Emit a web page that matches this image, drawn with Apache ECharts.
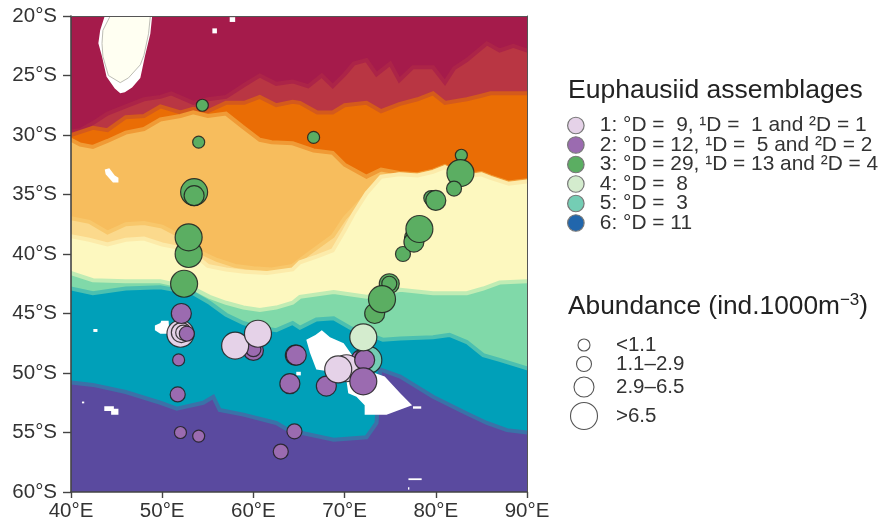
<!DOCTYPE html>
<html><head><meta charset="utf-8">
<style>html,body{margin:0;padding:0;background:#fff}#c{width:879px;height:524px;filter:blur(0.5px)}</style>
<script src="https://cdn.jsdelivr.net/npm/echarts@6/dist/echarts.min.js"></script>
</head><body><div id="c"></div>
<script>
// Longitude ticks (E) and latitude ticks (S)
const lonTicks = [40,50,60,70,80,90];
const latTicks = [20,25,30,35,40,45,50,55,60];

// Water-mass zone boundaries: [lon E, lat S]
const crimsonTop = [[40,20],[90,20]];
const crimsonEdge = [[40,29.7],[41,29.6],[42.4,29],[44,28.2],[46,27.6],[48,27],[49.8,26.8],[51,26.5],[53.4,27.3],[55,27],[57,26.8],[59,25.8],[60.7,25],[62.5,25.7],[64.3,25.5],[66,25.9],[67.5,25],[68.7,25.9],[70,24.9],[71,24],[72.4,23.7],[73.5,24.9],[75,24],[76,25.4],[77.5,24.3],[79.7,24.3],[81,25.6],[82,24.4],[83.4,23.7],[84.5,23],[85.6,22.3],[87,22.9],[88.5,22.5],[90,22.9]];
const orangeTop = [[40,30],[42.4,29.4],[44,29.6],[46,28.5],[48,28.4],[49.8,27.6],[52,28.1],[53.4,27.8],[55,28],[57,27.3],[59,27.3],[60.7,26.8],[62.5,27.5],[64.3,27.2],[65.1,27.3],[67,28.1],[68.7,28.1],[70,27.5],[72.4,27.3],[74,28],[76,27.4],[78,27],[79.7,26.5],[81,27.3],[83.4,27],[85,26.7],[86,26.5],[90,26.5]];
const orangeBottom = [[40,30.4],[41,30.8],[42.4,31],[44,30.5],[46,29.8],[48,29.5],[49.8,28.7],[52,28.4],[53.4,28.1],[55,28.4],[57,28.2],[58.8,29.3],[60.7,30.4],[62,30.6],[64.3,30.7],[66.6,31.3],[68.7,31.5],[70,32.5],[72.4,33.5],[74,32.9],[76,33.2],[78,33.3],[79.7,33],[81,32.6],[83,33.4],[85,33.2],[86,33.5],[88,34],[90,33.8]];
const paleMixTop = [[40,37],[42,37.3],[44,38.2],[46,37.5],[48,37.4],[50,37.7],[52,38.5],[54,39.8],[56,40.5],[58,41],[60,41.2],[62,41.3],[64.3,41],[66,40],[68.7,38.5],[70,37],[72.4,35],[74.1,33.6],[76,33.3],[78,33.4],[79.7,33.1],[81,32.7],[83,33.5],[85,33.3],[86,33.6],[88,34.1],[90,33.9]];
const yellowTop = [[40,38.5],[42,38.8],[44,39.2],[46,38.8],[48,38.7],[50,39.2],[52,39.5],[53.4,40],[55,41],[57,41.3],[59,41.5],[61.5,41.6],[64.3,41.3],[65.1,40.7],[67,40.2],[68.7,39.7],[70,38],[71,36.6],[72.4,34.9],[74,33.5],[76,33.3],[78,33.4],[79.7,33.1],[81,32.7],[83,33.5],[85,33.3],[86,33.6],[88,34.1],[90,33.9]];
const mintTop = [[40,41.6],[42.4,42.2],[46,42.3],[49.8,42.3],[53.4,42.9],[55.2,43.6],[57,44.1],[58.9,44.5],[60.7,44.7],[62.5,44.5],[64.3,44.1],[65.1,43.6],[68.8,43.2],[72.4,43.6],[76.1,43],[79.7,43.3],[83.4,43.3],[85.2,42.9],[87,42.4],[90,42.3]];
const tealTop = [[40,42.9],[42.4,43.3],[46,42.9],[49.8,42.8],[53.4,43.3],[55.2,44.1],[57,45.1],[58.9,45.8],[60.7,46.2],[62.5,46.4],[64.3,45.8],[65.1,46.2],[66.9,45.5],[68.8,45.4],[70.6,46.2],[74.2,47.2],[76.1,47.1],[79.7,47],[81.5,46.8],[83.4,47.4],[85.2,48.5],[87,48.9],[90,49.6]];
const purpleTop = [[40,50.8],[42.4,51],[46,51.6],[49.8,52.5],[51.6,53],[54.5,52.5],[55.6,52],[56.3,53.1],[58.9,53.5],[62.5,54.2],[64.3,55],[65.1,55],[68.8,55.6],[72.4,55.4],[73.5,54.2],[73.9,49.7],[76.1,50.3],[79.7,52],[83.4,53.4],[85.6,54.2],[87.8,54.8],[90,55]];

// Land and missing-data outlines: [lon E, lat S]
const madagascarHalo = [[43.7,20],[43.2,21.2],[43,22.3],[43.4,23.4],[43.9,25.1],[44.8,26.1],[45.4,26.5],[45.9,26.4],[46.7,26],[47.6,25.2],[48.1,23.4],[48.7,21.5],[48.9,20]];
const madagascarLand = [[44.3,20],[43.5,21.2],[43.4,22.3],[43.5,23.4],[44.1,25],[45.4,25.6],[46.3,25.2],[47.6,24.1],[48,23.3],[48.5,21.5],[48.7,20]];
const kerguelenGap = [[67.5,46.4],[68.4,47],[69.9,47.5],[71.1,48.8],[73.3,50],[74.4,50.3],[76.1,51.7],[77.4,52.7],[75.7,53.2],[74.6,53.5],[72.2,53.5],[72.2,52.7],[71.3,52],[70.4,51.7],[70.2,50.6],[69.5,50],[66.9,49.7],[66.2,48.3],[65.8,47.2],[66.8,46.8]];
const gapA = [[49.2,46],[49.8,45.8],[49.9,45.6],[50.7,45.6],[50.8,46.7],[49.8,46.7],[49.2,46.4]];
const gapB = [[42.45,46.3],[42.9,46.3],[42.9,46.55],[42.45,46.55]];
const gapC = [[41.2,52.4],[41.45,52.4],[41.45,52.55],[41.2,52.55]];
const gapD = [[43.65,52.8],[44.7,52.8],[44.7,53],[45.2,53],[45.2,53.5],[44.4,53.5],[44.4,53.2],[43.65,53.2]];
const gapE = [[43.7,32.9],[44.2,32.8],[44.8,33.4],[45.2,33.6],[45.2,34],[44.6,34],[43.8,33.3]];
const gapF = [[55.5,21.04],[56,21.04],[56,21.46],[55.5,21.46]];
const gapG = [[57.4,20.1],[58,20.1],[58,20.5],[57.4,20.5]];
const gapH = [[77.5,52.8],[78.4,52.8],[78.4,53],[77.5,53]];
const gapI = [[64.7,49.9],[65.2,49.9],[65.2,50.2],[64.7,50.2]];
const gapJ = [[77,58.85],[78.45,58.85],[78.45,59],[77,59]];
const gapK = [[76.95,59.6],[77.1,59.6],[77.1,59.8],[76.95,59.8]];

// Stations: [lon E, lat S, abundance class 0-3]
const a1Back = [[52,46.7,3],[52.1,46.6,2],[52.3,46.6,1],[70.2,49.6,3]];
const a1Top = [[58,47.7,3],[60.5,46.7,3],[69.3,49.7,3]];
const a2Back = [[60,48.1,2],[71.8,48.9,2],[64.6,48.5,2]];
const a2Top = [[52.1,45,2],[52.7,46.7,1],[51.8,48.9,0],[51.7,51.8,1],[52,55,0],[54,55.3,0],[63,56.6,1],[64.5,54.9,1],[64,50.9,2],[64.7,48.5,2],[60,48,1],[68,51.1,2],[72.2,48.9,2],[72.05,50.7,3]];
const a3Back = [[79.5,35.3,1],[53.5,34.8,3],[52.9,40,3],[52.4,42.5,3],[74.9,42.5,2],[73.3,45,2],[76.4,40,1],[77.4,38.6,1],[77.6,39,2]];
const a3Top = [[54.4,27.5,0],[54,30.6,0],[53.5,35.1,2],[52.9,38.6,3],[66.6,30.2,0],[82.8,31.7,0],[82.7,33.2,3],[82,34.5,1],[80,35.5,2],[78.2,37.9,3],[74.9,42.5,1],[74.1,43.8,3]];
const a4 = [[72.05,47,3]];
const a5 = [[72.6,48.9,3]];
const a6 = [];

// Legend text
const assemblageNames = ['1: °D =  9, ¹D =  1 and ²D = 1','2: °D = 12, ¹D =  5 and ²D = 2','3: °D = 29, ¹D = 13 and ²D = 4','4: °D =  8','5: °D =  3','6: °D = 11'];
const abundanceLabels = ['<1.1','1.1–2.9','2.9–6.5','>6.5'];

const classSize = [12,15,20,27];
const colours = ['#e5d2e8','#9b6bb0','#5bae62','#d4ecce','#74cdb4','#2166ac'];
const font = '"Liberation Sans", Arial, sans-serif';
const ink = '#333';

const bands = [
  [crimsonTop,'#a51b4b','#a51b4b'],
  [crimsonEdge,'#b93643','#ac2448'],
  [orangeTop,'#ea6d05','#d45a1c'],
  [orangeBottom,'#f7bd5d','#f09a35'],
  [paleMixTop,'#fbd98c','#f8c76b'],
  [yellowTop,'#fdf8bf','#fcebaa'],
  [mintTop,'#80d9a9','#c0ecb4'],
  [tealTop,'#00a0b9','#4cc0b0'],
  [purpleTop,'#5a4a9f','#3a72a8']
];
const gaps = [kerguelenGap,gapA,gapB,gapC,gapD,gapE,gapF,gapG,gapH,gapI,gapJ,gapK,madagascarHalo];

function bandOutline(edge){
  const first = edge[0], last = edge[edge.length-1];
  return [[38,first[1]]].concat(edge,[[92,last[1]],[92,63],[38,63]]);
}

function polygonSeries(items, z){
  return {
    type:'custom', silent:true, clip:true, z:z, xAxisIndex:0, yAxisIndex:0,
    data:items.map((_,i)=>[i]), encode:{x:-1,y:-1},
    renderItem:(p,api)=>{
      const it = items[api.value(0)];
      return {type:'polygon', shape:{points:it.points.map(q=>api.coord(q))},
        style:{fill:it.fill, stroke:it.stroke||null, lineWidth:it.lw||0}};
    }
  };
}

function stations(idx, data, z){
  return {
    type:'scatter', name:assemblageNames[idx], data:data, z:z, clip:false,
    symbolSize:d=>classSize[d[2]],
    itemStyle:{color:colours[idx], opacity:1, borderColor:'rgba(30,30,30,0.85)', borderWidth:1.2},
    emphasis:{disabled:true}
  };
}

const chart = echarts.init(document.getElementById('c'),null,{renderer:'canvas'});
chart.setOption({
  animation:false,
  backgroundColor:'#fff',
  title:[
    {text:'Euphausiid assemblages', left:563, top:72, textStyle:{fontFamily:font,fontSize:26.5,fontWeight:'normal',color:'#222'}},
    {text:'Abundance (ind.1000m{s|−3}{b|)}', left:563, top:287, textStyle:{fontFamily:font,fontSize:26.3,fontWeight:'normal',color:'#222',lineHeight:30,
      rich:{s:{fontFamily:font,fontSize:17,color:'#222',verticalAlign:'top',lineHeight:30,padding:[0,0,8,0]},b:{fontFamily:font,fontSize:26.3,color:'#222',lineHeight:30}}}}
  ],
  legend:{
    data:assemblageNames, left:562, top:110, orient:'vertical', padding:5,
    icon:'circle', itemWidth:34, itemHeight:16.5, itemGap:-1.5,
    itemStyle:{borderColor:'#777',borderWidth:1.2},
    textStyle:{fontFamily:font,fontSize:20.9,color:ink,lineHeight:19,padding:[0,0,0,2]},
    selectedMode:false
  },
  grid:{left:71,right:352,top:16,bottom:32},
  xAxis:[
    {type:'value',min:40,max:90,interval:10,position:'bottom',z:5,
     axisLine:{show:true,onZero:false,lineStyle:{color:'#444',width:1.6}},
     axisTick:{show:true,length:6,lineStyle:{color:'#444',width:1.4}},
     axisLabel:{formatter:v=>lonTicks.includes(v)?v+'°E':'',fontFamily:font,fontSize:20.5,color:ink,margin:9,hideOverlap:false},
     splitLine:{show:false}},
    {type:'value',min:40,max:90,position:'top',z:5,
     axisLine:{show:true,onZero:false,lineStyle:{color:'#555',width:1}},axisTick:{show:false},axisLabel:{show:false},splitLine:{show:false}}
  ],
  yAxis:[
    {type:'value',min:20,max:60,interval:5,inverse:true,position:'left',z:5,
     axisLine:{show:true,onZero:false,lineStyle:{color:'#444',width:1.6}},
     axisTick:{show:true,length:8,lineStyle:{color:'#444',width:1.4}},
     axisLabel:{formatter:v=>latTicks.includes(v)?v+'°S':'',fontFamily:font,fontSize:20.5,color:ink,margin:14},
     splitLine:{show:false}},
    {type:'value',min:20,max:60,inverse:true,position:'right',z:5,
     axisLine:{show:true,onZero:false,lineStyle:{color:'#555',width:1}},axisTick:{show:false},axisLabel:{show:false},splitLine:{show:false}}
  ],
  series:[
    polygonSeries(bands.map(b=>({points:bandOutline(b[0]),fill:b[1],stroke:b[2],lw:4})),1),
    polygonSeries(gaps.map(g=>({points:g,fill:'#fff'})).concat([{points:madagascarLand,fill:'#fffff2',stroke:'#bdbdb4',lw:1}]),2),
    stations(1,a2Back,10),
    stations(4,a5,11),
    stations(2,a3Back,12),
    stations(2,a3Top,13),
    stations(0,a1Back,14),
    stations(1,a2Top,15),
    stations(0,a1Top,16),
    stations(3,a4,17),
    stations(5,a6,18)
  ],
  graphic:{elements:abundanceLabels.flatMap((t,i)=>{
    const y=[345,364,387,416][i];
    return [
      {type:'circle',shape:{cx:584,cy:y,r:classSize[i]/2},style:{fill:'#fff',stroke:'#555',lineWidth:1.1}},
      {type:'text',x:616,y:y,style:{text:t,fontFamily:font,fontSize:20.5,fill:ink,verticalAlign:'middle',textVerticalAlign:'middle'}}
    ];
  })}
});
</script></body></html>
